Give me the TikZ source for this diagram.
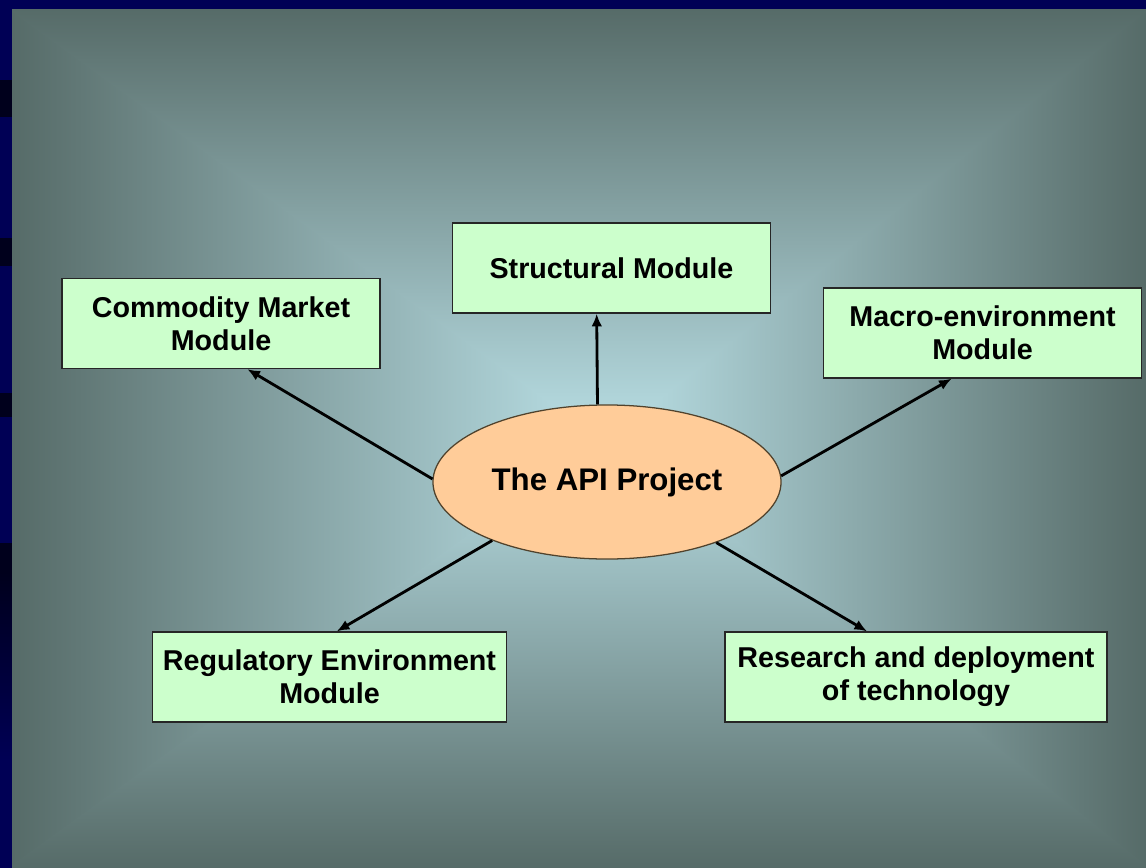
\documentclass[tikz,border=0pt]{standalone}
\usepackage{fontspec}
\setmainfont{Liberation Sans}
\usetikzlibrary{arrows.meta,shapes.geometric}
\definecolor{navy}{RGB}{0,0,85}
\definecolor{stripe}{RGB}{0,0,28}
\definecolor{edgegray}{RGB}{86,107,104}
\definecolor{midgray}{RGB}{130,160,164}
\definecolor{centercyan}{RGB}{186,224,230}
\definecolor{modgreen}{RGB}{204,255,204}
\definecolor{peach}{RGB}{255,204,153}
\definecolor{rimbrown}{RGB}{80,66,44}

\begin{document}
\begin{tikzpicture}[x=0.025cm, y=-0.025cm, >={Latex[length=9pt,width=7.5pt]},
  module/.style={draw=black!85, line width=0.9pt, fill=modgreen, rectangle, inner sep=0pt,
    align=center, minimum height=2.25cm, font=\bfseries\fontsize{20.4}{23.4}\selectfont},
  project/.style={draw=rimbrown, line width=0.9pt, fill=peach, ellipse, inner sep=0pt,
    minimum width=8.7cm, minimum height=3.85cm, font=\bfseries\fontsize{22.2}{26}\selectfont},
  link/.style={->, line width=2pt, black}]
\useasboundingbox (0,0) rectangle (1146,868);
\fill[navy] (0,0) rectangle (1146,868);
\fill[stripe] (0,80) rectangle (12,117);
\fill[stripe] (0,238) rectangle (12,266);
\fill[stripe] (0,393) rectangle (12,417);
\fill[stripe] (0,543) rectangle (12,572);
\shade[top color=stripe, bottom color=navy] (0,572) rectangle (12,760);
\shade[left color=edgegray, middle color=midgray, right color=centercyan] (12,9) -- (12,868) -- (605,440) -- cycle;
\shade[left color=centercyan, middle color=midgray, right color=edgegray] (1146,9) -- (1146,868) -- (605,440) -- cycle;
\shade[top color=edgegray, middle color=midgray, bottom color=centercyan]
  (12,9) -- (1146,9) -- (1146,12) -- (608,442) -- (602,442) -- (12,12) -- cycle;
\shade[top color=centercyan, middle color=midgray, bottom color=edgegray]
  (12,868) -- (1146,868) -- (1146,865) -- (608,438) -- (602,438) -- (12,865) -- cycle;

\node[project] (API) at (607,482) {The API Project};
\node[module, minimum width=7.93cm] (SM) at (611.5,268) {Structural Module};
\node[module, minimum width=7.95cm] (CM) at (221,323.5) {Commodity Market\\Module};
\node[module, minimum width=7.93cm] (ME) at (982.5,333) {Macro-environment\\Module};
\node[module, minimum width=8.85cm] (RE) at (329.5,677) {Regulatory Environment\\Module};
\node[module, minimum width=9.55cm] (RD) at (916,677) {Research and deployment\\of technology};
\draw [link] (API.97) -- (SM.252) ;
\draw [link] (API.179) -- (CM.-60) ;
\draw [link] (API.2) -- (ME.236) ;
\draw [link] (API.207) -- (RE.81) ;
\draw [link] (API.331) -- (RD.137) ;
\end{tikzpicture}
\end{document}
